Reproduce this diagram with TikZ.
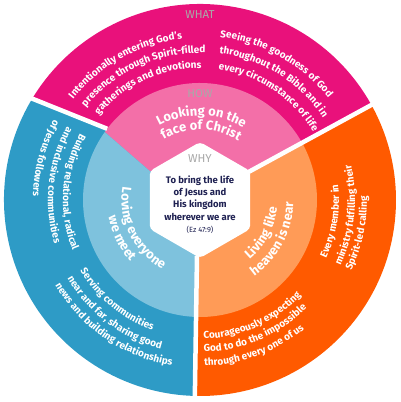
\documentclass[tikz,border=0pt]{standalone}
\usepackage{fontspec}
\setmainfont{Fira Sans}
\usetikzlibrary{decorations.text}
\definecolor{pinkD}{HTML}{E9117B}
\definecolor{pinkL}{HTML}{F36FA8}
\definecolor{blueD}{HTML}{2E9BC6}
\definecolor{blueL}{HTML}{7EC2DD}
\definecolor{orD}{HTML}{FF5A00}
\definecolor{orL}{HTML}{FF9B57}
\definecolor{greyT}{HTML}{A9A9A9}
\definecolor{navyT}{HTML}{1F2152}
\newcommand{\ringfnt}{\fontsize{10}{10}\selectfont\bfseries\color{white}}
\newcommand{\innerfnt}{\fontsize{13}{13}\selectfont\bfseries\color{white}}
\begin{document}
\begin{tikzpicture}[x=1pt,y=1pt,
  ringtext/.style={decorate,decoration={text along path,text align=left,text={#1}}},
  ringmid/.style={decorate,decoration={text along path,text align=center,text={#1}}},
  gap/.style={draw=white,line width=4.5pt},
  lbl/.style={text=greyT,font=\fontsize{11.5}{11.5}\selectfont,inner sep=0pt},
  centretxt/.style={text=navyT,font=\fontsize{9.5}{12.3}\selectfont\bfseries,align=center,inner sep=0pt}]
\useasboundingbox (-200,-202) rectangle (200,200);
% outer sectors
\fill[pinkD] (0,0) -- (29:196) arc[start angle=29,end angle=149,radius=196] -- (142.5:117) -- cycle;
\fill[blueD] (0,0) -- (142.5:117) -- (149:196) arc[start angle=149,end angle=268.5,radius=196] -- cycle;
\fill[orD] (0,0) -- (268.5:196) arc[start angle=268.5,end angle=389,radius=196] -- cycle;
% inner ring
\fill[pinkL] (0,0) -- (29:117) arc[start angle=29,end angle=144.5,radius=117] -- (150:58) -- cycle;
\fill[blueL] (150:58) -- (144.5:117) arc[start angle=144.5,end angle=268.5,radius=117] -- (0,0) -- cycle;
\fill[orL] (0,0) -- (268.5:117) arc[start angle=268.5,end angle=389,radius=117] -- cycle;
% gaps
\draw[gap] (149:199) -- (142.5:117);
\draw[gap] (30:56) -- (29:199);
\draw[gap] (-3,-56) -- (-5.2,-199);
% hexagon
\fill[white,rounded corners=4pt] (90:58) -- (150:58) -- (210:58) -- (270:58) -- (330:58) -- (30:58) -- cycle;
% labels
\node[lbl] (what) at (0,185) {WHAT};
\node[lbl] (how) at (0,106) {HOW};
\node[lbl] (why) at (0,41) {WHY};
\node[centretxt] (mission) at (0,2) {To bring the life\\of Jesus and\\His kingdom\\wherever we are};
\node[text=navyT,font=\fontsize{7.5}{7.5}\selectfont,inner sep=0pt] (ref) at (0,-30) {(Ez 47:9)};
% WHAT texts (pink)
\path[ringtext={|\ringfnt|Intentionally entering God's}] (141.5:162) arc[start angle=141.5,end angle=60,radius=162];
\path[ringtext={|\ringfnt|presence through Spirit-filled}] (141:147) arc[start angle=141,end angle=60,radius=147];
\path[ringtext={|\ringfnt|gatherings and devotions}] (140:132) arc[start angle=140,end angle=60,radius=132];
\path[ringtext={|\ringfnt|Seeing the goodness of God}] (83:164) arc[start angle=83,end angle=0,radius=164];
\path[ringtext={|\ringfnt|throughout the Bible and in}] (82.5:148) arc[start angle=82.5,end angle=0,radius=148];
\path[ringtext={|\ringfnt|every circumstance of life}] (82:132) arc[start angle=82,end angle=0,radius=132];
% blue texts
\path[ringtext={|\ringfnt|Building relational, radical}] (151:137) arc[start angle=151,end angle=240,radius=137];
\path[ringtext={|\ringfnt|and inclusive communities}] (151:152) arc[start angle=151,end angle=240,radius=152];
\path[ringtext={|\ringfnt|of Jesus followers}] (151:167) arc[start angle=151,end angle=240,radius=167];
\path[ringtext={|\ringfnt|Serving communities}] (210.5:139) arc[start angle=210.5,end angle=300,radius=139];
\path[ringtext={|\ringfnt|near and far, sharing good}] (210.5:154) arc[start angle=210.5,end angle=300,radius=154];
\path[ringtext={|\ringfnt|news and building relationships}] (210.5:168) arc[start angle=210.5,end angle=300,radius=168];
% orange texts
\path[ringtext={|\ringfnt|Every member in}] (335:139) arc[start angle=335,end angle=420,radius=139];
\path[ringtext={|\ringfnt|ministry fulfilling their}] (335:155) arc[start angle=335,end angle=420,radius=155];
\path[ringtext={|\ringfnt|Spirit-led calling}] (335:167) arc[start angle=335,end angle=420,radius=167];
\path[ringtext={|\ringfnt|Courageously expecting}] (271.5:139) arc[start angle=271.5,end angle=340,radius=139];
\path[ringtext={|\ringfnt|God to do the impossible}] (271.5:152) arc[start angle=271.5,end angle=340,radius=152];
\path[ringtext={|\ringfnt|through every one of us}] (271.5:166) arc[start angle=271.5,end angle=340,radius=166];
% inner ring texts
\path[ringmid={|\innerfnt|Looking on the}] (149:84.5) arc[start angle=149,end angle=29,radius=84.5];
\path[ringmid={|\innerfnt|face of Christ}] (149:70.5) arc[start angle=149,end angle=29,radius=70.5];
\path[ringmid={|\innerfnt|Loving everyone}] (146:78.5) arc[start angle=146,end angle=266,radius=78.5];
\path[ringmid={|\innerfnt|we meet}] (146:93) arc[start angle=146,end angle=266,radius=93];
\path[ringmid={|\innerfnt|Living like}] (-88:77.5) arc[start angle=-88,end angle=32,radius=77.5];
\path[ringmid={|\innerfnt|heaven is near}] (-88:93.5) arc[start angle=-88,end angle=32,radius=93.5];
\end{tikzpicture}
\end{document}
